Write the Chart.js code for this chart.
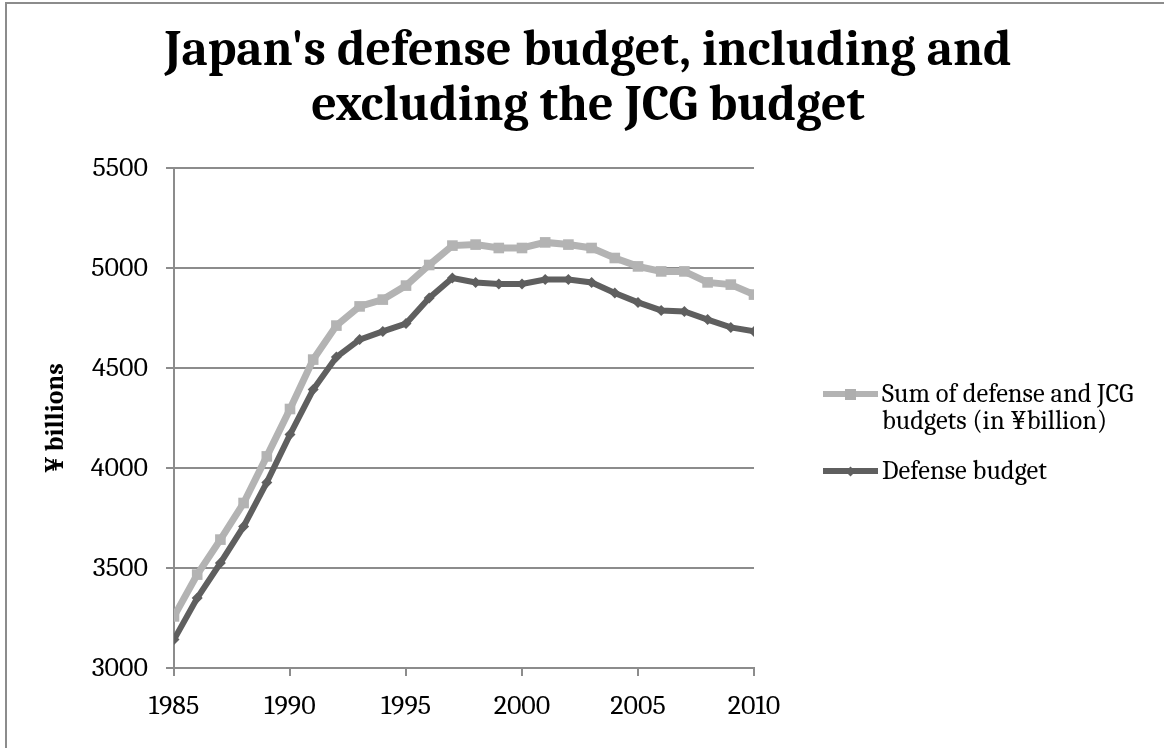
<!DOCTYPE html>
<html>
<head>
<meta charset="utf-8">
<script src="https://cdn.jsdelivr.net/npm/chart.js@4"></script>
<style>
  html, body { margin: 0; padding: 0; background: #fff; overflow: hidden; }
  #wrap { position: relative; width: 1164px; height: 748px; }
  #frame {
    position: absolute; left: 5px; top: 2px; width: 1300px; height: 900px;
    border: 2px solid #8c8c8c; box-sizing: border-box;
  }
  canvas { position: absolute; left: 0; top: 0; }
  .legend { position: absolute; left: 823px; font-family: Cambria, 'Liberation Serif', serif; font-size: 26.5px; color: #000; }
  .legend .item { position: relative; padding-left: 59px; line-height: 27px; }
  .legend .swatch { position: absolute; left: 0; top: 11px; width: 55px; height: 6px; }
  .legend .mark { position: absolute; left: 50%; top: 50%; }
</style>
</head>
<body>
<div id="wrap">
  <div id="frame"></div>
  <canvas id="chart" width="1164" height="748"></canvas>
  <div class="legend" id="legend"></div>
</div>
<script>
// Valeurs (en milliards de yens)
const years = [1985, 1986, 1987, 1988, 1989, 1990, 1991, 1992, 1993, 1994, 1995, 1996, 1997,
  1998, 1999, 2000, 2001, 2002, 2003, 2004, 2005, 2006, 2007, 2008, 2009, 2010];

const sumBudget = [3258, 3467, 3642, 3825, 4058, 4295, 4542, 4712, 4808, 4842, 4912, 5015, 5112,
  5117, 5100, 5100, 5128, 5117, 5100, 5050, 5008, 4983, 4983, 4928, 4917, 4867];

const defenseBudget = [3142, 3350, 3525, 3708, 3928, 4167, 4392, 4555, 4642, 4683, 4722, 4850, 4950,
  4928, 4920, 4920, 4942, 4942, 4928, 4875, 4828, 4788, 4783, 4742, 4703, 4683];

const seriesNames = ['Sum of defense and JCG budgets (in ¥billion)', 'Defense budget'];
const yTicks = [3000, 3500, 4000, 4500, 5000, 5500];

const LIGHT = '#b3b3b3';
const DARK = '#5f5f5f';
const AXIS = '#8c8c8c';
const FONT = "Cambria, 'Liberation Serif', serif";

const toPoints = (vals) => years.map((y, i) => ({ x: y, y: vals[i] }));

new Chart(document.getElementById('chart'), {
  type: 'line',
  data: {
    datasets: [
      {
        label: seriesNames[0],
        data: toPoints(sumBudget),
        borderColor: LIGHT,
        backgroundColor: LIGHT,
        borderWidth: 7,
        pointStyle: 'rect',
        pointRadius: 7.5,
        pointBorderWidth: 0,
        tension: 0,
      },
      {
        label: seriesNames[1],
        data: toPoints(defenseBudget),
        borderColor: DARK,
        backgroundColor: DARK,
        borderWidth: 6,
        pointStyle: 'rectRot',
        pointRadius: 5.5,
        pointBorderWidth: 0,
        tension: 0,
      },
    ],
  },
  options: {
    responsive: false,
    animation: false,
    layout: { padding: { left: 12, right: 0, top: 0, bottom: 0 } },
    plugins: {
      legend: { display: false },
      tooltip: { enabled: false },
      title: {
        display: true,
        text: ["Japan's defense budget, including and", 'excluding the JCG budget'],
        color: '#000',
        font: { family: FONT, size: 50, weight: 'bold', lineHeight: 1.1 },
        padding: { top: 23, bottom: 35 },
      },
    },
    scales: {
      x: {
        type: 'linear',
        min: years[0],
        max: years[years.length - 1],
        afterFit: (s) => { s.height = 80; },
        border: { display: true, color: AXIS, width: 2 },
        grid: { drawOnChartArea: false, drawTicks: true, tickLength: 8, color: AXIS, lineWidth: 2 },
        ticks: {
          stepSize: 5,
          color: '#000',
          padding: 13,
          font: { family: FONT, size: 28 },
          callback: (v) => String(v),
          maxRotation: 0,
        },
      },
      y: {
        min: yTicks[0],
        max: yTicks[yTicks.length - 1],
        afterFit: (s) => { s.width = 162; },
        border: { display: true, color: AXIS, width: 2 },
        grid: { color: AXIS, lineWidth: 2, tickLength: 8 },
        ticks: {
          stepSize: 500,
          color: '#000',
          padding: 18,
          font: { family: FONT, size: 28 },
          callback: (v) => String(v),
        },
        title: {
          display: true,
          text: '¥ billions',
          color: '#000',
          font: { family: FONT, size: 26, weight: 'bold', lineHeight: 1.2 },
          padding: { top: 28, bottom: 0 },
        },
      },
      // axe vide à droite : réserve la place de la légende
      side: {
        position: 'right',
        display: true,
        afterFit: (s) => { s.width = 410; },
        grid: { display: false },
        border: { display: false },
        ticks: { display: false },
      },
    },
  },
});

// Légende HTML à droite (texte sur deux lignes pour la première série)
const legendEl = document.getElementById('legend');
legendEl.style.top = '380px';
legendEl.innerHTML = `
  <div class="item" style="width:300px">
    <div class="swatch" style="background:${LIGHT}">
      <div class="mark" style="width:11px;height:11px;margin:-5.5px 0 0 -5.5px;background:${LIGHT};filter:brightness(0.97)"></div>
    </div>Sum of defense and JCG<br>budgets (in ¥billion)
  </div>
  <div class="item" style="margin-top:23px">
    <div class="swatch" style="background:${DARK}">
      <div class="mark" style="width:7px;height:7px;margin:-3.5px 0 0 -3.5px;background:${DARK};transform:rotate(45deg)"></div>
    </div>Defense budget
  </div>`;
</script>
</body>
</html>
